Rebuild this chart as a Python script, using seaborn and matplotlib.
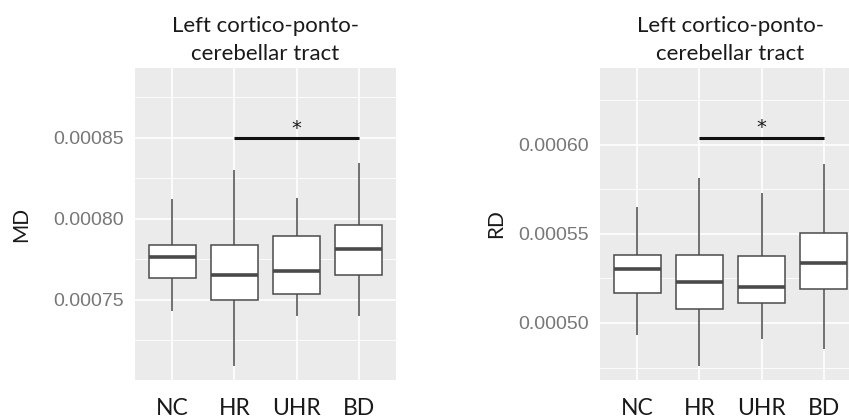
import numpy as np
import pandas as pd
import matplotlib.pyplot as plt
import matplotlib.ticker as mticker
import seaborn as sns

# ── Data (five-number summaries) ───────────────────────────────────────
groups = ["NC", "HR", "UHR", "BD"]
title = "Left cortico-ponto-\ncerebellar tract"

# each list: [lower whisker, Q1, median, Q3, upper whisker]
md_NC  = [0.000743, 0.0007633, 0.0007765, 0.0007837, 0.000812]
md_HR  = [0.000709, 0.000750, 0.0007656, 0.000784, 0.000830]
md_UHR = [0.000740, 0.0007537, 0.0007676, 0.0007893, 0.0008126]
md_BD  = [0.000740, 0.0007652, 0.0007816, 0.0007961, 0.0008345]

rd_NC  = [0.0004935, 0.0005167, 0.000530, 0.000538, 0.0005651]
rd_HR  = [0.0004757, 0.0005078, 0.0005229, 0.000538, 0.0005813]
rd_UHR = [0.000491, 0.0005111, 0.0005203, 0.0005375, 0.0005729]
rd_BD  = [0.0004854, 0.0005193, 0.0005337, 0.0005507, 0.0005893]

md_ticks = [0.00075, 0.00080, 0.00085]
rd_ticks = [0.00050, 0.00055, 0.00060]
md_lim = (0.0007006, 0.000893)
rd_lim = (0.000468, 0.000643)
md_sig = 0.00085
rd_sig = 0.000604
sig_pair = ("HR", "BD")

def to_long(vals):
    rows = []
    for g, v in zip(groups, vals):
        for x in v:
            rows.append({"group": g, "value": x})
    return pd.DataFrame(rows)

md_df = to_long([md_NC, md_HR, md_UHR, md_BD])
rd_df = to_long([rd_NC, rd_HR, rd_UHR, rd_BD])

sns.set_theme(style="darkgrid", rc={"axes.facecolor": "#EBEBEB",
                                    "grid.color": "white",
                                    "axes.edgecolor": "#EBEBEB"})

TXT = ["Lato", "DejaVu Sans"]
TCK = ["Liberation Sans", "DejaVu Sans"]

fig = plt.figure(figsize=(8.49, 4.2), dpi=100)
ax1 = fig.add_axes([0.159, 0.0952, 0.3074, 0.743])
ax2 = fig.add_axes([0.7067, 0.0952, 0.3074, 0.743])

def draw(ax, df, ylabel, ticks, lim, sig, ypad):
    sns.boxplot(data=df, x="group", y="value", order=groups, whis=np.inf,
                width=0.75, color="white", linecolor="#4a4a4a",
                linewidth=1.1, showcaps=False,
                medianprops=dict(linewidth=2.6), ax=ax)
    ax.set_xlim(-0.6, len(groups) - 0.4)
    ax.set_ylim(*lim)
    ax.set_yticks(ticks)
    step = ticks[1] - ticks[0]
    ax.yaxis.set_minor_locator(mticker.MultipleLocator(step / 2))
    ax.yaxis.set_major_formatter(mticker.FormatStrFormatter("%.5f"))
    ax.grid(True, which="major", color="white", lw=1.2)
    ax.grid(True, which="minor", axis="y", color="white", lw=0.6)
    ax.set_axisbelow(True)
    for s in ax.spines.values():
        s.set_visible(False)
    ax.tick_params(axis="y", which="major", length=4, width=1,
                   color="#4d4d4d", pad=4, labelsize=14,
                   labelcolor="#777777", labelfontfamily=TCK)
    ax.tick_params(axis="x", which="major", length=4, width=1,
                   color="#4d4d4d", pad=9, labelsize=16.5,
                   labelcolor="#1a1a1a", labelfontfamily=TXT)
    ax.tick_params(axis="y", which="minor", length=0)
    ax.set_xlabel("")
    ax.set_ylabel(ylabel, family=TXT, fontsize=15, color="#1a1a1a",
                  labelpad=ypad)
    ax.set_title(title, family=TXT, fontsize=16, color="#1a1a1a",
                 pad=6, linespacing=1.5)
    i0, i1 = groups.index(sig_pair[0]), groups.index(sig_pair[1])
    ax.plot([i0, i1], [sig, sig], color="#111111", lw=2.2, solid_capstyle="butt")
    ax.annotate("*", xy=((i0 + i1) / 2, sig), xytext=(0, 3),
                textcoords="offset points", ha="center", va="baseline",
                fontsize=14, color="#1a1a1a", family="DejaVu Sans")

draw(ax1, md_df, "MD", md_ticks, md_lim, md_sig, 16)
draw(ax2, rd_df, "RD", rd_ticks, rd_lim, rd_sig, 9)

fig.savefig("out.png", dpi=100)
